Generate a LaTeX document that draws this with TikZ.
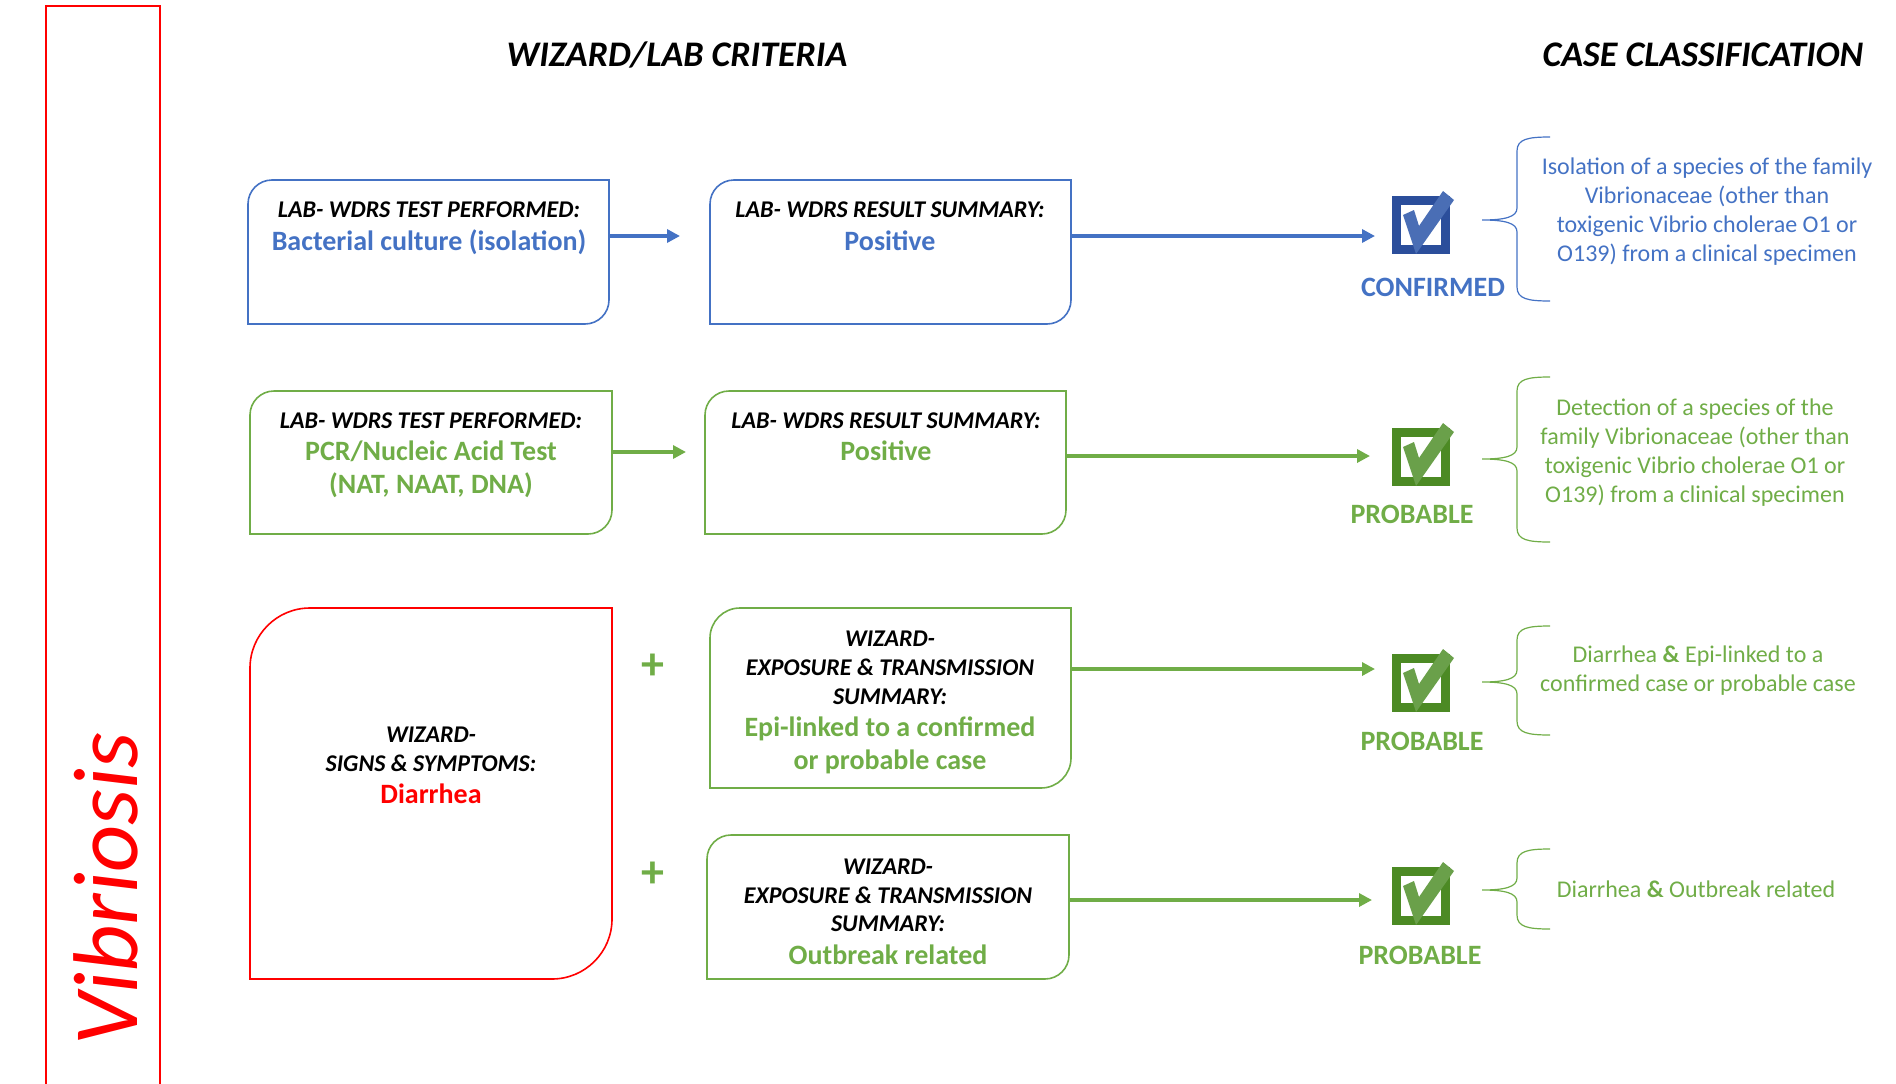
\documentclass[tikz,border=0pt]{standalone}
\usepackage{fontspec}
\setmainfont{Carlito}
\usetikzlibrary{arrows.meta}
\definecolor{bl}{HTML}{4472C4}
\definecolor{gr}{HTML}{70AD47}
\definecolor{rd}{HTML}{FF0000}
\definecolor{dkB}{HTML}{2B4E9B}
\definecolor{ltB}{HTML}{4A6EB5}
\definecolor{dkG}{HTML}{4C8A24}
\definecolor{ltG}{HTML}{6AA04A}
\newcommand\rdbox[3]{\draw[#3, line width=1.6pt] (#1.south west) -- ([yshift=-#2]#1.north west) arc[start angle=180,end angle=90,radius=#2] -- (#1.north east) -- ([yshift=#2]#1.south east) arc[start angle=0,end angle=-90,radius=#2] -- cycle;}
\newcommand\chkmark[2]{\begin{scope}[shift={(#1.center)}]\fill[#2] (-18,-10) -- (-7,-15) -- (-2,1) -- (22,-34) -- (33,-25) -- (-5,29) -- cycle;\end{scope}}
\newcommand\brc[4]{\draw[#1, line width=1.2pt] (1550,#2) .. controls (1528,#2) and (1517,#2+2) .. (1517,#2+14) -- (1517,#3-12) .. controls (1517,#3-3) and (1505,#3) .. (1482,#3) .. controls (1505,#3) and (1517,#3+3) .. (1517,#3+12) -- (1517,#4-14) .. controls (1517,#4-2) and (1528,#4) .. (1550,#4);}
\begin{document}
\begin{tikzpicture}[x=1pt,y=-1pt,
  boxn/.style={rectangle, inner sep=0pt, outer sep=0pt},
  lab/.style={font=\fontsize{24}{28}\selectfont\bfseries\itshape, anchor=base, inner sep=0pt},
  val/.style={font=\fontsize{28}{32}\selectfont\bfseries, anchor=base, inner sep=0pt},
  desc/.style={font=\fontsize{24}{29}\selectfont, align=center, inner sep=0pt},
  hdr/.style={font=\fontsize{36}{40}\selectfont\bfseries\itshape, inner sep=0pt},
  cls/.style={font=\fontsize{28}{32}\selectfont\bfseries, inner sep=0pt},
  chk/.style={rectangle, draw=#1, line width=9pt, minimum size=49pt, inner sep=0pt},
  arr/.style={draw=#1, line width=3.5pt, -{Triangle[length=13pt,width=13pt]}},
  plus/.style={font=\fontsize{46}{50}\selectfont\bfseries, text=gr, inner sep=0pt}]
\useasboundingbox (0,0) rectangle (1896,1084);
% left band
\draw[rd, line width=2.5pt] (46,1090) -- (46,6) -- (160,6) -- (160,1090);
\node[font=\fontsize{92}{96}\selectfont\itshape, text=rd, rotate=90, anchor=base west, inner sep=0pt] (vib) at (137,1046) {Vibriosis};
% headers
\node[hdr] (h1) at (677,55) {WIZARD/LAB CRITERIA};
\node[hdr] (h2) at (1703,55) {CASE CLASSIFICATION};
% boxes
\node[boxn, minimum width=361pt, minimum height=144pt] (t1) at (428.5,252) {};
\node[boxn, minimum width=361pt, minimum height=144pt] (r1) at (890.5,252) {};
\node[boxn, minimum width=362pt, minimum height=143pt] (t2) at (431,462.5) {};
\node[boxn, minimum width=361pt, minimum height=143pt] (r2) at (885.5,462.5) {};
\node[boxn, minimum width=362pt, minimum height=371pt] (d) at (431,793.5) {};
\node[boxn, minimum width=361pt, minimum height=180pt] (e1) at (890.5,698) {};
\node[boxn, minimum width=362pt, minimum height=144pt] (e2) at (888,907) {};
\rdbox{t1}{24pt}{bl}
\rdbox{r1}{24pt}{bl}
\rdbox{t2}{24pt}{gr}
\rdbox{r2}{24pt}{gr}
\rdbox{d}{60pt}{rd}
\rdbox{e1}{30pt}{gr}
\rdbox{e2}{24pt}{gr}
% box texts
\node[lab] (t1a) at (429,217.5) {LAB- WDRS TEST PERFORMED:};
\node[val, text=bl] (t1b) at (429,250.5) {Bacterial culture (isolation)};
\node[lab] (r1a) at (890,217.5) {LAB- WDRS RESULT SUMMARY:};
\node[val, text=bl] (r1b) at (890,250.5) {Positive};
\node[lab] (t2a) at (431,428.5) {LAB- WDRS TEST PERFORMED:};
\node[val, text=gr] (t2b) at (431,460.5) {PCR/Nucleic Acid Test};
\node[val, text=gr] (t2c) at (431,493.5) {(NAT, NAAT, DNA)};
\node[lab] (r2a) at (886,428.5) {LAB- WDRS RESULT SUMMARY:};
\node[val, text=gr] (r2b) at (886,460.5) {Positive};
\node[lab] (da) at (431,742.5) {WIZARD-};
\node[lab] (db) at (431,771.5) {SIGNS \& SYMPTOMS:};
\node[val, text=rd] (dc) at (431,803.5) {Diarrhea};
\node[lab] (e1a) at (890,646.5) {WIZARD-};
\node[lab] (e1b) at (890,675.5) {EXPOSURE \& TRANSMISSION};
\node[lab] (e1c) at (890,704.5) {SUMMARY:};
\node[val, text=gr] (e1d) at (890,736.5) {Epi-linked to a confirmed};
\node[val, text=gr] (e1e) at (890,769.5) {or probable case};
\node[lab] (e2a) at (888,874.5) {WIZARD-};
\node[lab] (e2b) at (888,903.5) {EXPOSURE \& TRANSMISSION};
\node[lab] (e2c) at (888,931.5) {SUMMARY:};
\node[val, text=gr] (e2d) at (888,964) {Outbreak related};
% plus signs
\node[plus] (p1) at (653,667) {+};
\node[plus] (p2) at (653,875) {+};
% check icons
\node[chk=dkB] (c1) at (1421,225) {};
\node[chk=dkG] (c2) at (1421,457) {};
\node[chk=dkG] (c3) at (1421,683) {};
\node[chk=dkG] (c4) at (1421,896) {};
\chkmark{c1}{ltB}
\chkmark{c2}{ltG}
\chkmark{c3}{ltG}
\chkmark{c4}{ltG}
\node[cls, text=bl] (k1) at (1433,287) {CONFIRMED};
\node[cls, text=gr] (k2) at (1412,514) {PROBABLE};
\node[cls, text=gr] (k3) at (1422,741) {PROBABLE};
\node[cls, text=gr] (k4) at (1420,955) {PROBABLE};
% arrows
\draw[arr=bl] ([yshift=16pt]t1.east) -- ([xshift=-30pt,yshift=16pt]r1.west);
\draw[arr=bl] ([yshift=16pt]r1.east) -- ([xshift=-17pt,yshift=-11pt]c1.west);
\draw[arr=gr] ([yshift=10.5pt]t2.east) -- ([xshift=-19pt,yshift=10.5pt]r2.west);
\draw[arr=gr] ([yshift=6.5pt]r2.east) -- ([xshift=-22pt,yshift=6.5pt]r2.east -| c2.west);
\draw[arr=gr] ([yshift=29pt]e1.east) -- ([xshift=-17pt,yshift=14pt]c3.west);
\draw[arr=gr] ([yshift=7pt]e2.east) -- ([xshift=-20pt,yshift=-4pt]c4.west);
% braces
\brc{bl}{137}{220}{301}
\brc{gr}{377}{459}{542}
\brc{gr}{626}{682}{735}
\brc{gr}{849}{890}{929}
% descriptions
\node[desc, text=bl] (s1) at (1707,212) {Isolation of a species of the family\\Vibrionaceae (other than\\toxigenic Vibrio cholerae O1 or\\O139) from a clinical specimen};
\node[desc, text=gr] (s2) at (1695,453) {Detection of a species of the\\family Vibrionaceae (other than\\toxigenic Vibrio cholerae O1 or\\O139) from a clinical specimen};
\node[desc, text=gr] (s3) at (1698,671) {Diarrhea \textbf{\&} Epi-linked to a\\confirmed case or probable case};
\node[desc, text=gr] (s4) at (1696,889) {Diarrhea \textbf{\&} Outbreak related};
\end{tikzpicture}
\end{document}
